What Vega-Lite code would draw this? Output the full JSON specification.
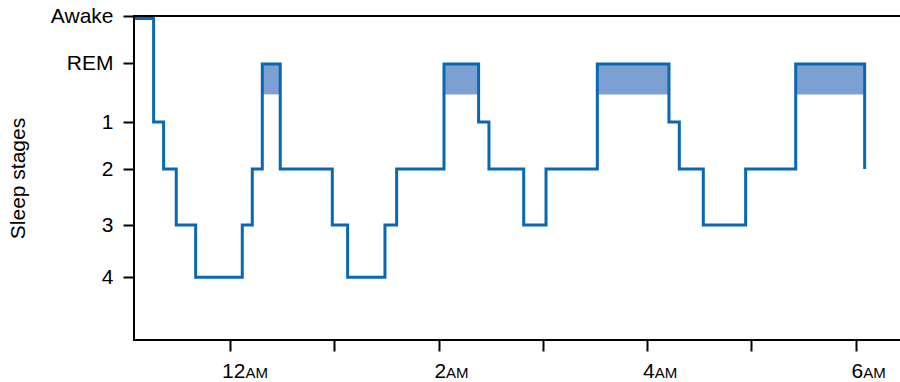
{
  "$schema": "https://vega.github.io/schema/vega-lite/v6.json",
  "width": 767,
  "height": 324,
  "autosize": {"type": "none"},
  "padding": {"left": 134, "top": 16, "right": 0, "bottom": 42},
  "background": "white",
  "config": {
    "view": {"stroke": "black", "strokeWidth": 2},
    "font": "Liberation Sans",
    "axis": {
      "labelFont": "Liberation Sans",
      "titleFont": "Liberation Sans",
      "labelColor": "black",
      "titleColor": "black",
      "tickColor": "black",
      "domain": false,
      "grid": false
    }
  },
  "datasets": {
    "stages": [
      {"time": "2024-01-01T23:05:20", "stage": "Awake", "level": 0.05},
      {"time": "2024-01-01T23:16:05", "stage": "1", "level": 2.03},
      {"time": "2024-01-01T23:21:50", "stage": "2", "level": 2.93},
      {"time": "2024-01-01T23:29:06", "stage": "3", "level": 4.0},
      {"time": "2024-01-01T23:40:16", "stage": "4", "level": 5.0},
      {"time": "2024-01-02T00:07:05", "stage": "3", "level": 4.0},
      {"time": "2024-01-02T00:12:50", "stage": "2", "level": 2.93},
      {"time": "2024-01-02T00:18:36", "stage": "REM", "level": 0.92},
      {"time": "2024-01-02T00:28:55", "stage": "2", "level": 2.93},
      {"time": "2024-01-02T00:58:52", "stage": "3", "level": 4.0},
      {"time": "2024-01-02T01:07:41", "stage": "4", "level": 5.0},
      {"time": "2024-01-02T01:29:10", "stage": "3", "level": 4.0},
      {"time": "2024-01-02T01:35:53", "stage": "2", "level": 2.93},
      {"time": "2024-01-02T02:03:07", "stage": "REM", "level": 0.92},
      {"time": "2024-01-02T02:23:02", "stage": "1", "level": 2.03},
      {"time": "2024-01-02T02:28:59", "stage": "2", "level": 2.93},
      {"time": "2024-01-02T02:48:58", "stage": "3", "level": 4.0},
      {"time": "2024-01-02T03:01:48", "stage": "2", "level": 2.93},
      {"time": "2024-01-02T03:31:19", "stage": "REM", "level": 0.92},
      {"time": "2024-01-02T04:12:32", "stage": "1", "level": 2.03},
      {"time": "2024-01-02T04:18:29", "stage": "2", "level": 2.93},
      {"time": "2024-01-02T04:32:17", "stage": "3", "level": 4.0},
      {"time": "2024-01-02T04:56:38", "stage": "2", "level": 2.93},
      {"time": "2024-01-02T05:25:26", "stage": "REM", "level": 0.92},
      {"time": "2024-01-02T06:05:06", "stage": "2", "level": 2.93}
    ],
    "rem": [
      {"start": "2024-01-02T00:18:36", "end": "2024-01-02T00:28:55"},
      {"start": "2024-01-02T02:03:07", "end": "2024-01-02T02:23:02"},
      {"start": "2024-01-02T03:31:19", "end": "2024-01-02T04:12:32"},
      {"start": "2024-01-02T05:25:26", "end": "2024-01-02T06:05:06"}
    ]
  },
  "layer": [
    {
      "data": {"name": "rem"},
      "mark": {"type": "rect", "color": "#7da0d3", "opacity": 1},
      "encoding": {
        "x": {
          "field": "start",
          "type": "temporal",
          "scale": {
            "domain": [
              {"year": 2024, "month": 1, "date": 1, "hours": 23, "minutes": 4, "seconds": 48},
              {"year": 2024, "month": 1, "date": 2, "hours": 6, "minutes": 26, "seconds": 0}
            ],
            "nice": false
          },
          "axis": {
            "orient": "bottom",
            "title": null,
            "values": [
              {"year": 2024, "month": 1, "date": 2, "hours": 0},
              {"year": 2024, "month": 1, "date": 2, "hours": 1},
              {"year": 2024, "month": 1, "date": 2, "hours": 2},
              {"year": 2024, "month": 1, "date": 2, "hours": 3},
              {"year": 2024, "month": 1, "date": 2, "hours": 4},
              {"year": 2024, "month": 1, "date": 2, "hours": 5},
              {"year": 2024, "month": 1, "date": 2, "hours": 6}
            ],
            "labelExpr": "hours(datum.value) % 2 === 0 ? (hours(datum.value) === 0 ? '12' : '' + hours(datum.value)) : ''",
            "labelAlign": "right",
            "labelBaseline": "alphabetic",
            "labelFontSize": 21,
            "labelPadding": 26,
            "labelOffset": {"condition": {"test": "hours(datum.value) === 0", "value": 15}, "value": 7},
            "labelOverlap": false,
            "labelFlush": false,
            "labelBound": false,
            "tickSize": 11,
            "tickWidth": 2,
            "tickColor": "black"
          }
        },
        "x2": {"field": "end"},
        "y": {"datum": 0.92, "type": "quantitative"},
        "y2": {"datum": 1.5}
      }
    },
    {
      "data": {"name": "stages"},
      "mark": {"type": "line", "interpolate": "step-after", "color": "#0a67b3", "strokeWidth": 3},
      "encoding": {
        "x": {
          "field": "time",
          "type": "temporal",
          "axis": {
            "orient": "bottom",
            "title": null,
            "values": [
              {"year": 2024, "month": 1, "date": 2, "hours": 0},
              {"year": 2024, "month": 1, "date": 2, "hours": 2},
              {"year": 2024, "month": 1, "date": 2, "hours": 4},
              {"year": 2024, "month": 1, "date": 2, "hours": 6}
            ],
            "labelExpr": "'AM'",
            "labelAlign": "left",
            "labelBaseline": "alphabetic",
            "labelFontSize": 15,
            "labelPadding": 26,
            "labelOffset": {"condition": {"test": "hours(datum.value) === 0", "value": 15}, "value": 7},
            "labelOverlap": false,
            "labelFlush": false,
            "labelBound": false,
            "tickSize": 11,
            "tickWidth": 2,
            "tickOpacity": 0
          }
        },
        "y": {
          "field": "level",
          "type": "quantitative",
          "scale": {"domain": [0, 6.2], "reverse": true, "nice": false, "zero": false},
          "axis": {
            "title": "Sleep stages",
            "titleFontSize": 21,
            "titleFontWeight": "normal",
            "titlePadding": 22,
            "values": [0, 0.9, 2.03, 2.93, 4, 5],
            "labelExpr": "datum.value === 0 ? 'Awake' : datum.value === 0.9 ? 'REM' : datum.value === 2.03 ? '1' : datum.value === 2.93 ? '2' : datum.value === 4 ? '3' : '4'",
            "labelFontSize": 21,
            "labelPadding": 10,
            "labelOverlap": false,
            "labelFlush": false,
            "tickSize": 11,
            "tickWidth": 2,
            "tickColor": "black"
          }
        }
      }
    }
  ],
  "resolve": {"axis": {"x": "independent"}}
}
